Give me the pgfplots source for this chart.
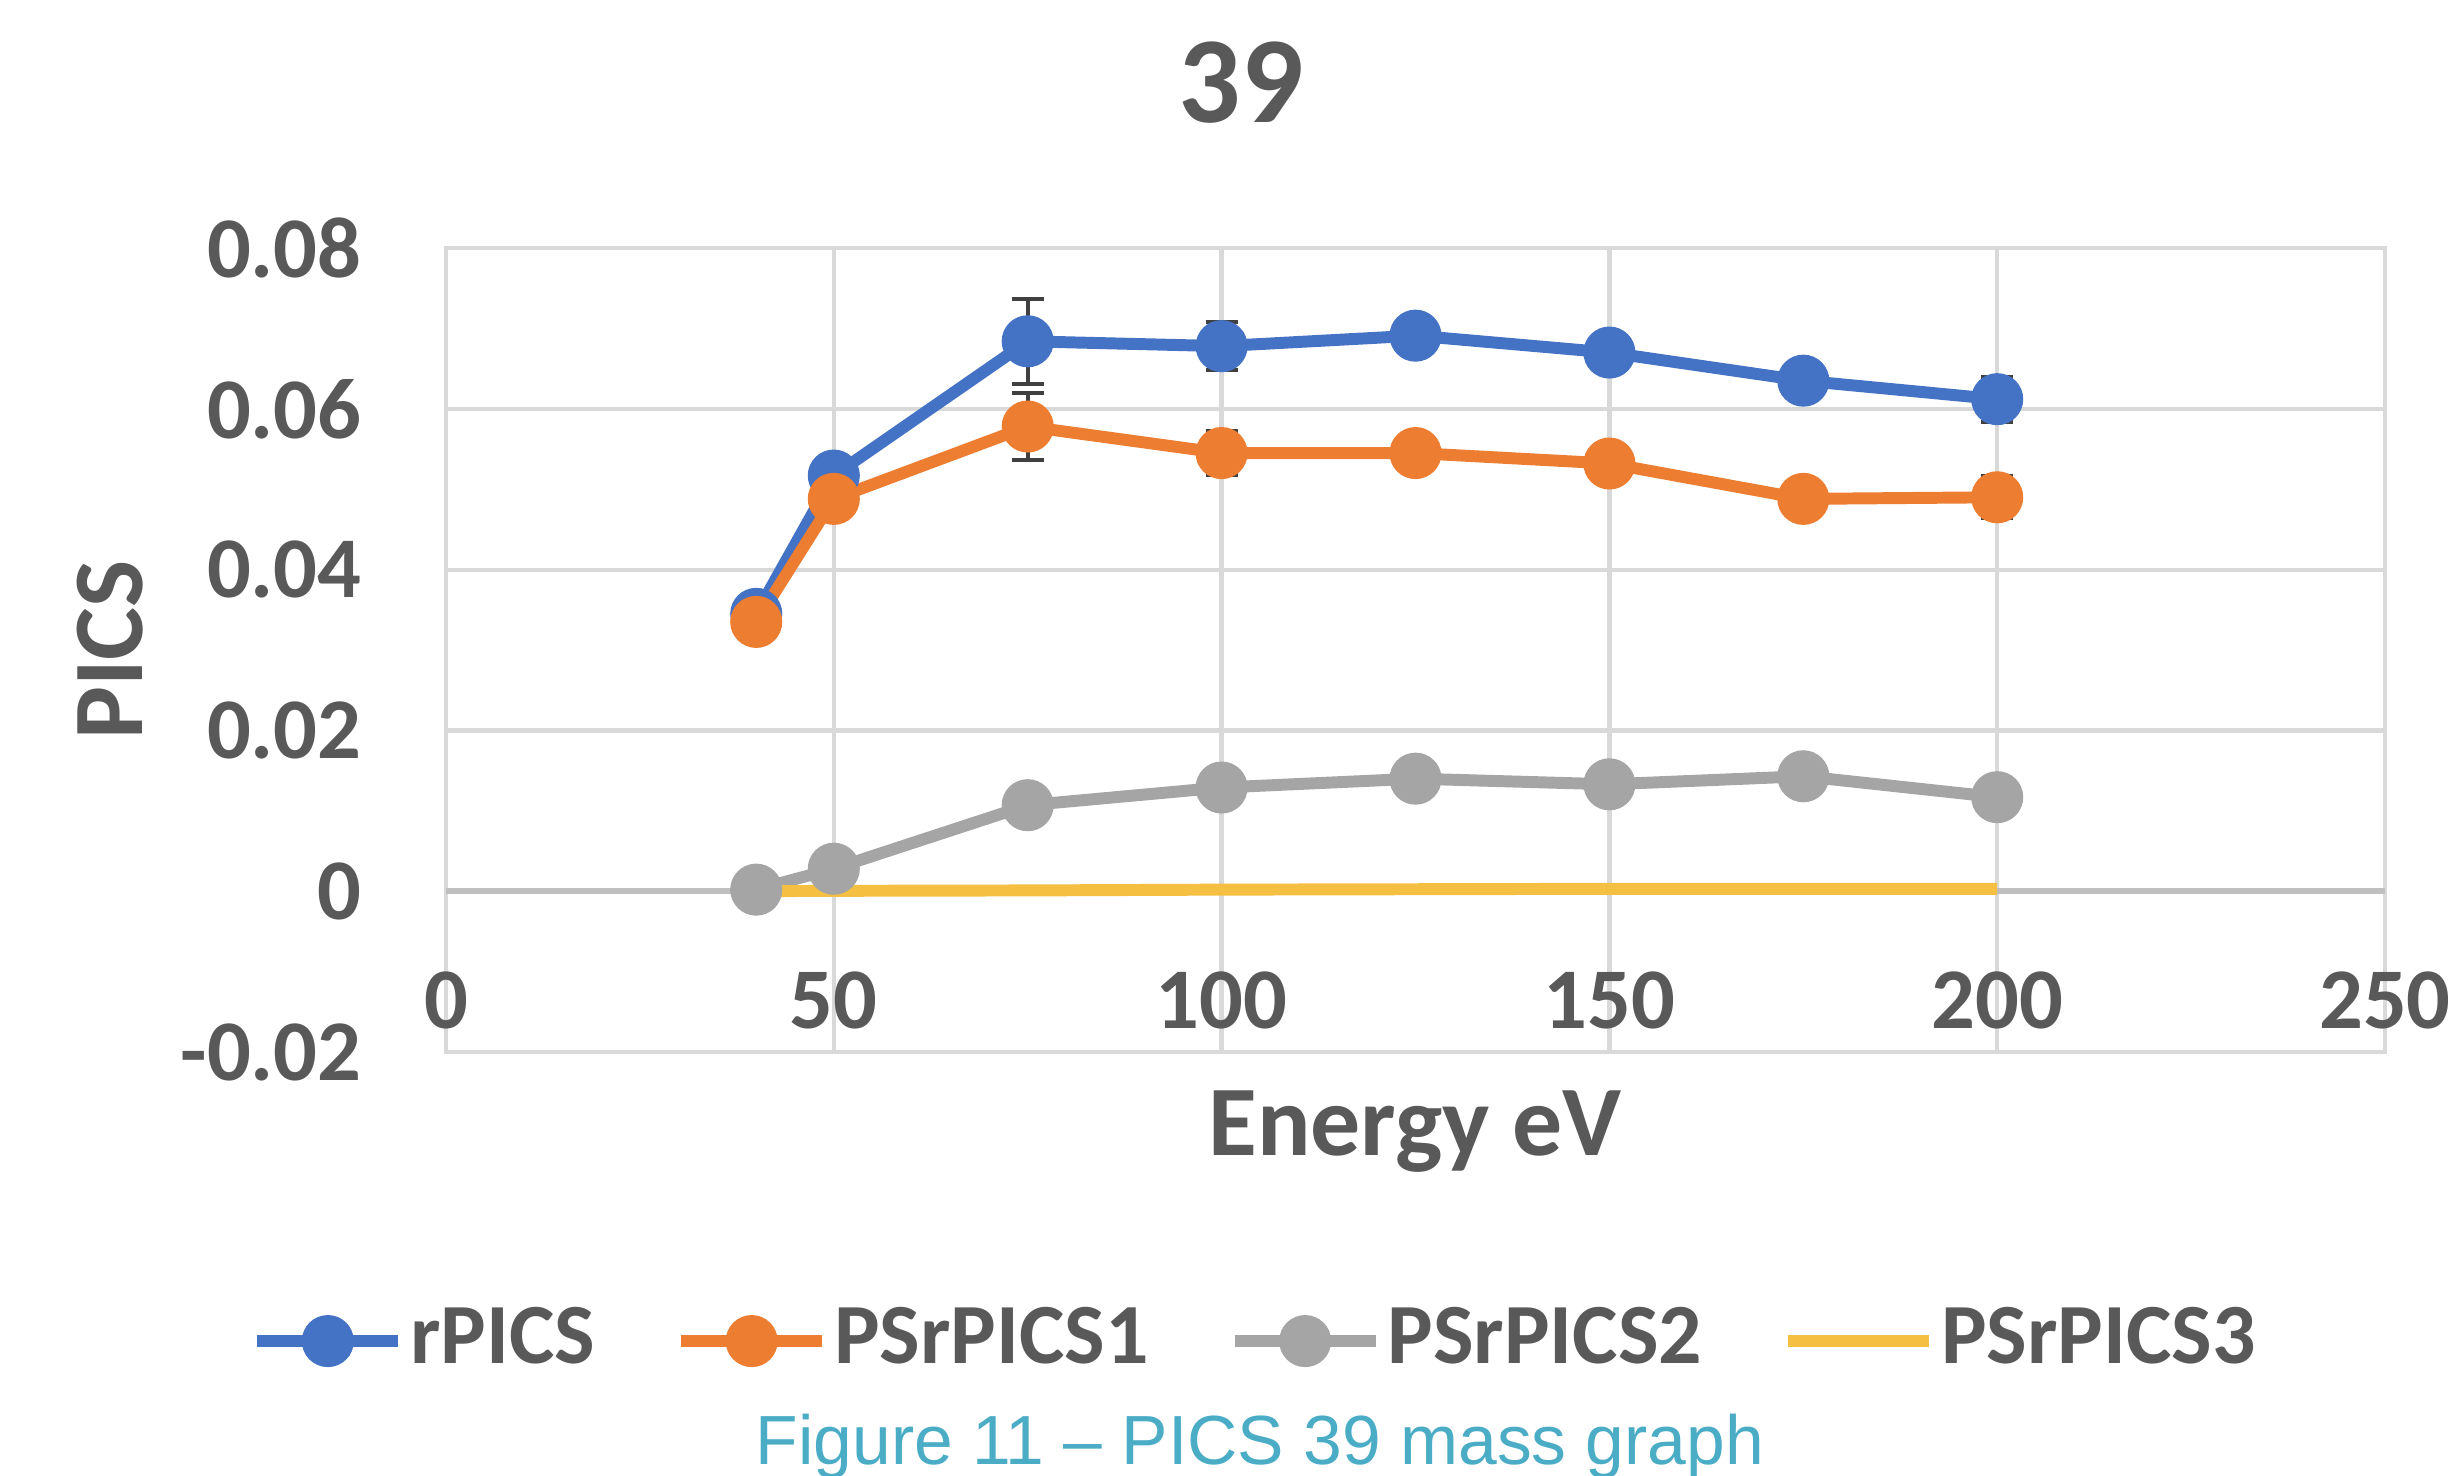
\documentclass[border=0pt]{standalone}
\usepackage{fontspec}
\setmainfont{Carlito}
\newfontfamily\capfont{Liberation Sans}
\usepackage{pgfplots}
\pgfplotsset{compat=1.18}
\definecolor{sblue}{HTML}{4472C4}
\definecolor{sorange}{HTML}{ED7D31}
\definecolor{sgray}{HTML}{A5A5A5}
\definecolor{syellow}{HTML}{F5BF42}
\definecolor{gridgray}{HTML}{D9D9D9}
\definecolor{zerogray}{HTML}{BFBFBF}
\definecolor{errgray}{HTML}{404040}
\definecolor{txtgray}{HTML}{595959}
\definecolor{capblue}{HTML}{4BACC6}

\begin{document}
\begin{tikzpicture}
\useasboundingbox (-2.23cm,-2.115cm) rectangle (10.04cm,5.26cm);
\begin{axis}[
  at={(0,0)}, anchor=south west,
  scale only axis, width=9.695cm, height=4.02cm,
  xmin=0, xmax=250, ymin=-0.02, ymax=0.08,
  scaled y ticks=false,
  xtick={0,50,100,150,200,250},
  xticklabels={0,50,100,150,200,250},
  ytick={-0.02,0,0.02,0.04,0.06,0.08},
  yticklabels={-0.02,0,0.02,0.04,0.06,0.08},
  grid=major,
  grid style={draw=gridgray, line width=0.6pt},
  axis line style={draw=gridgray, line width=0.6pt},
  extra y ticks={0}, extra y tick labels={},
  extra y tick style={major grid style={draw=zerogray, line width=0.8pt}},
  major tick length=0pt,
  tick label style={font=\fontsize{12.3}{14}\selectfont\bfseries, text=txtgray},
  xticklabel style={anchor=center, inner sep=0pt, yshift=0.26cm},
  yticklabel style={anchor=east, inner sep=0pt, xshift=-0.415cm},
  legend columns=4,
  legend style={at={(-0.1011,-0.3595)}, anchor=west, draw=none, fill=none,
    inner sep=0pt, font=\fontsize{12.2}{14}\selectfont\bfseries, text=txtgray,
    nodes={inner sep=0.03cm},
    /tikz/every even column/.append style={column sep=0.37cm}},
  legend image code/.code={\draw[mark repeat=2,mark phase=2,#1]
    plot coordinates {(0cm,0cm) (0.3525cm,0cm) (0.705cm,0cm)};},
  every axis plot/.append style={line width=1.7pt},
  error bars/error bar style={line width=0.6pt, draw=errgray},
  error bars/error mark options={rotate=90, mark size=0.08cm, line width=0.6pt, draw=errgray},
]
\addplot[color=sblue, mark=*, mark size=2.85pt,
  error bars/.cd, y dir=both, y explicit] coordinates {
  (40,0.0345) +- (0,0.0010)
  (50,0.0517) +- (0,0.0010)
  (75,0.0684) +- (0,0.0053)
  (100,0.0678) +- (0,0.0030)
  (125,0.0691) +- (0,0.0008)
  (150,0.0670) +- (0,0.0022)
  (175,0.0635) +- (0,0.0005)
  (200,0.0612) +- (0,0.0028)
};
\addlegendentry{rPICS}
\addplot[color=sorange, mark=*, mark size=2.85pt,
  error bars/.cd, y dir=both, y explicit] coordinates {
  (40,0.0335) +- (0,0.0005)
  (50,0.0488) +- (0,0.0010)
  (75,0.0578) +- (0,0.0042)
  (100,0.0545) +- (0,0.0027)
  (125,0.0545) +- (0,0.0008)
  (150,0.0532) +- (0,0.0020)
  (175,0.0488) +- (0,0.0005)
  (200,0.0490) +- (0,0.0026)
};
\addlegendentry{PSrPICS1}
\addplot[color=sgray, mark=*, mark size=2.85pt] coordinates {
  (40,0.0002) (50,0.0028) (75,0.0107) (100,0.0129)
  (125,0.0140) (150,0.0133) (175,0.0143) (200,0.0117)
};
\addlegendentry{PSrPICS2}
\addplot[color=syellow, no marks] coordinates {
  (40,0.0000) (50,0.00005) (75,0.0001) (100,0.0002)
  (125,0.00025) (150,0.0003) (175,0.0003) (200,0.0003)
};
\addlegendentry{PSrPICS3}
\end{axis}
\node[anchor=base, font=\fontsize{17.5}{20}\selectfont\bfseries, text=txtgray] at (3.975cm,4.65cm) {39};
\node[rotate=90, font=\fontsize{14.2}{16}\selectfont\bfseries, text=txtgray] at (-1.68cm,2.01cm) {PICS};
\node[anchor=base, font=\fontsize{14.2}{16}\selectfont\bfseries, text=txtgray] at (4.845cm,-0.515cm) {Energy eV};
\node[anchor=base, font=\capfont\fontsize{9.9}{12}\selectfont, text=capblue] at (4.07cm,-2.06cm) {Figure 11 – PICS 39 mass graph};
\end{tikzpicture}
\end{document}
